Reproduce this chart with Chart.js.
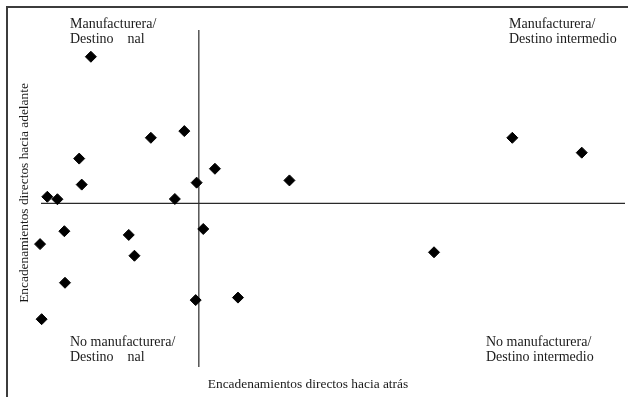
<!DOCTYPE html>
<html>
<head>
<meta charset="utf-8">
<script src="https://cdn.jsdelivr.net/npm/chart.js@4/dist/chart.umd.min.js"></script>
<style>
  html, body { margin: 0; padding: 0; background: #fff; }
  .wrap { position: relative; width: 628px; height: 397px; }
  .frame { position: absolute; left: 6px; top: 6px; right: 0; bottom: 0;
           border-top: 2px solid #3c3c3c; border-left: 2px solid #3c3c3c; }
  canvas { position: absolute; left: 0; top: 0; }
</style>
</head>
<body>
<div class="wrap">
  <div class="frame"></div>
  <canvas id="chart" width="628" height="397"></canvas>
</div>
<script>
// encadenamientos directos: hacia atrás (x) y hacia adelante (y), promedio = 1
var backward = [0.658, 0.848, 0.954, 0.621, 0.629, 1.051, 0.993, 1.287, 1.993, 2.213,
                0.520, 0.552, 0.924, 0.574, 0.778, 1.014, 0.497, 0.796, 1.745, 0.576,
                0.990, 1.124, 0.502];
var forward  = [1.592, 1.265, 1.292, 1.181, 1.076, 1.140, 1.084, 1.093, 1.265, 1.205,
                1.027, 1.017, 1.018, 0.888, 0.873, 0.897, 0.836, 0.789, 0.803, 0.680,
                0.610, 0.620, 0.533];
var average = 1;
var xRange = [0.5, 2.35];
var yRange = [0.34, 1.7];

var xTitle = 'Encadenamientos directos hacia atrás';
var yTitle = 'Encadenamientos directos hacia adelante';
var quadrants = [
    { lines: ['Manufacturera/', 'Destino    nal'], x: 70, y: 28 },
    { lines: ['Manufacturera/', 'Destino intermedio'], x: 509, y: 28 },
    { lines: ['No manufacturera/', 'Destino    nal'], x: 70, y: 346 },
    { lines: ['No manufacturera/', 'Destino intermedio'], x: 486, y: 346 }
];

var points = backward.map(function (b, i) { return { x: b, y: forward[i] }; });

var FONT = '14px "Liberation Serif", "Times New Roman", serif';
var TITLE_FONT = '13.4px "Liberation Serif", "Times New Roman", serif';

var quadrantLines = {
    id: 'quadrantLines',
    beforeDatasetsDraw: function (chart) {
        var ctx = chart.ctx, xs = chart.scales.x, ys = chart.scales.y, a = chart.chartArea;
        var px = xs.getPixelForValue(average), py = ys.getPixelForValue(average);
        ctx.save();
        ctx.strokeStyle = '#2a2a2a';
        ctx.lineWidth = 1.2;
        ctx.beginPath();
        ctx.moveTo(px, a.top);
        ctx.lineTo(px, a.bottom);
        ctx.moveTo(a.left, py);
        ctx.lineTo(a.right, py);
        ctx.stroke();
        ctx.restore();
    },
    afterDraw: function (chart) {
        var ctx = chart.ctx;
        ctx.save();
        ctx.font = FONT;
        ctx.fillStyle = '#1a1a1a';
        ctx.textBaseline = 'alphabetic';
        ctx.textAlign = 'left';
        quadrants.forEach(function (q) {
            q.lines.forEach(function (t, i) { ctx.fillText(t, q.x, q.y + i * 15); });
        });
        ctx.font = TITLE_FONT;
        ctx.textAlign = 'center';
        ctx.fillText(xTitle, 308, 388);
        ctx.translate(28, 193);
        ctx.rotate(-Math.PI / 2);
        ctx.fillText(yTitle, 0, 0);
        ctx.restore();
    }
};

new Chart(document.getElementById('chart'), {
    type: 'scatter',
    data: {
        datasets: [{
            data: points,
            pointStyle: 'rectRot',
            pointRadius: 5.5,
            pointHoverRadius: 5.5,
            backgroundColor: '#000',
            borderColor: '#000',
            borderWidth: 1,
            clip: false
        }]
    },
    options: {
        responsive: false,
        animation: false,
        layout: { autoPadding: false, padding: { left: 41, right: 3, top: 30, bottom: 30 } },
        plugins: { legend: { display: false }, tooltip: { enabled: false } },
        scales: {
            x: { type: 'linear', display: false, min: xRange[0], max: xRange[1] },
            y: { type: 'linear', display: false, min: yRange[0], max: yRange[1] }
        }
    },
    plugins: [quadrantLines]
});
</script>
</body>
</html>
